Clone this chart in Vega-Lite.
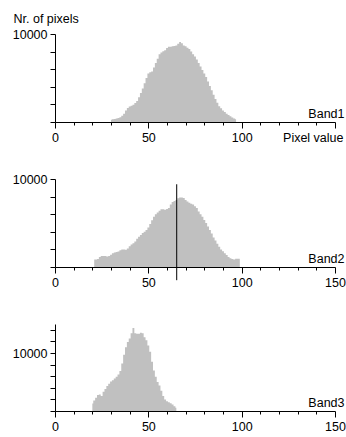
{
  "$schema": "https://vega.github.io/schema/vega-lite/v6.json",
  "background": "white",
  "padding": {"left": 12, "top": 12, "right": 0, "bottom": 0},
  "bounds": "flush",
  "spacing": 57,
  "config": {
    "view": {"stroke": null},
    "font": "Liberation Sans",
    "axis": {
      "domainColor": "black", "tickColor": "black", "labelColor": "black", "titleColor": "black",
      "labelFont": "Liberation Sans", "labelFontSize": 12.5, "titleFont": "Liberation Sans",
      "titleFontSize": 12.5, "titleFontWeight": "normal", "grid": false, "domainWidth": 1, "tickWidth": 1
    }
  },
  "datasets": {
    "b1": [
      {"v":30,"n":250},{"v":31,"n":300},{"v":32,"n":350},{"v":33,"n":400},{"v":34,"n":450},{"v":35,"n":550},{"v":36,"n":700},{"v":37,"n":950},{"v":38,"n":1300},{"v":39,"n":1600},
      {"v":40,"n":1750},{"v":41,"n":1850},{"v":42,"n":1950},{"v":43,"n":2150},{"v":44,"n":2400},{"v":45,"n":2800},{"v":46,"n":3300},{"v":47,"n":3800},{"v":48,"n":4400},{"v":49,"n":5000},
      {"v":50,"n":5500},{"v":51,"n":5650},{"v":52,"n":5750},{"v":53,"n":6200},{"v":54,"n":6700},{"v":55,"n":7200},{"v":56,"n":7700},{"v":57,"n":7900},{"v":58,"n":8050},{"v":59,"n":8150},
      {"v":60,"n":8400},{"v":61,"n":8550},{"v":62,"n":8550},{"v":63,"n":8600},{"v":64,"n":8650},{"v":65,"n":8700},{"v":66,"n":8900},{"v":67,"n":9100},{"v":68,"n":8950},{"v":69,"n":8700},
      {"v":70,"n":8600},{"v":71,"n":8450},{"v":72,"n":8300},{"v":73,"n":8000},{"v":74,"n":7700},{"v":75,"n":7450},{"v":76,"n":7100},{"v":77,"n":6700},{"v":78,"n":6300},{"v":79,"n":5900},
      {"v":80,"n":5500},{"v":81,"n":5100},{"v":82,"n":4600},{"v":83,"n":4100},{"v":84,"n":3600},{"v":85,"n":3100},{"v":86,"n":2600},{"v":87,"n":2200},{"v":88,"n":1800},{"v":89,"n":1550},
      {"v":90,"n":1300},{"v":91,"n":1150},{"v":92,"n":950},{"v":93,"n":800},{"v":94,"n":650},{"v":95,"n":500},{"v":96,"n":400},{"v":97,"n":300}
    ],
    "b2": [
      {"v":21,"n":850},{"v":22,"n":850},{"v":23,"n":900},{"v":24,"n":1150},{"v":25,"n":1250},{"v":26,"n":1250},{"v":27,"n":1250},{"v":28,"n":1200},{"v":29,"n":1250},
      {"v":30,"n":1400},{"v":31,"n":1550},{"v":32,"n":1650},{"v":33,"n":1700},{"v":34,"n":1750},{"v":35,"n":1900},{"v":36,"n":2000},{"v":37,"n":2000},{"v":38,"n":1950},{"v":39,"n":2100},
      {"v":40,"n":2350},{"v":41,"n":2550},{"v":42,"n":2700},{"v":43,"n":2900},{"v":44,"n":3200},{"v":45,"n":3450},{"v":46,"n":3650},{"v":47,"n":3850},{"v":48,"n":4000},{"v":49,"n":4200},
      {"v":50,"n":4500},{"v":51,"n":4900},{"v":52,"n":5300},{"v":53,"n":5700},{"v":54,"n":6000},{"v":55,"n":6200},{"v":56,"n":6400},{"v":57,"n":6550},{"v":58,"n":6550},{"v":59,"n":6500},
      {"v":60,"n":6600},{"v":61,"n":6700},{"v":62,"n":7100},{"v":63,"n":7400},{"v":64,"n":7500},{"v":65,"n":7600},{"v":66,"n":7800},{"v":67,"n":7900},{"v":68,"n":7900},{"v":69,"n":7850},
      {"v":70,"n":7600},{"v":71,"n":7450},{"v":72,"n":7300},{"v":73,"n":7200},{"v":74,"n":7100},{"v":75,"n":6900},{"v":76,"n":6700},{"v":77,"n":6300},{"v":78,"n":6000},{"v":79,"n":5700},
      {"v":80,"n":5350},{"v":81,"n":5000},{"v":82,"n":4600},{"v":83,"n":4200},{"v":84,"n":3800},{"v":85,"n":3350},{"v":86,"n":3000},{"v":87,"n":2650},{"v":88,"n":2300},{"v":89,"n":2000},
      {"v":90,"n":1800},{"v":91,"n":1550},{"v":92,"n":1350},{"v":93,"n":1150},{"v":94,"n":1000},{"v":95,"n":900},{"v":96,"n":850},{"v":97,"n":950},{"v":98,"n":950},{"v":99,"n":950}
    ],
    "b3": [
      {"v":20,"n":1300},{"v":21,"n":1800},{"v":22,"n":2300},{"v":23,"n":2750},{"v":24,"n":2850},{"v":25,"n":2600},{"v":26,"n":3300},{"v":27,"n":3800},{"v":28,"n":4300},{"v":29,"n":4700},
      {"v":30,"n":5100},{"v":31,"n":5300},{"v":32,"n":5600},{"v":33,"n":5900},{"v":34,"n":6300},{"v":35,"n":6900},{"v":36,"n":8200},{"v":37,"n":9700},{"v":38,"n":11000},{"v":39,"n":11900},
      {"v":40,"n":12500},{"v":41,"n":13400},{"v":42,"n":14300},{"v":43,"n":13400},{"v":44,"n":13300},{"v":45,"n":13300},{"v":46,"n":13500},{"v":47,"n":13400},{"v":48,"n":12700},{"v":49,"n":12200},
      {"v":50,"n":11300},{"v":51,"n":10200},{"v":52,"n":8500},{"v":53,"n":7000},{"v":54,"n":5900},{"v":55,"n":5000},{"v":56,"n":4400},{"v":57,"n":3500},{"v":58,"n":2600},{"v":59,"n":2000},
      {"v":60,"n":1700},{"v":61,"n":1500},{"v":62,"n":1350},{"v":63,"n":1100},{"v":64,"n":800},{"v":65,"n":550}
    ]
  },
  "vconcat": [
    {
      "width": 280, "height": 88,
      "data": {"name": "b1"},
      "mark": {"type": "area", "interpolate": "step", "color": "#c0c0c0"},
      "encoding": {
        "x": {"field": "v", "type": "quantitative", "scale": {"domain": [0, 150], "nice": false, "zero": false},
          "axis": {"values": [0,10,20,30,40,50,60,70,80,90,100,110,120,130,140,150], "format": "d",
            "tickSize": {"condition": {"test": "datum.value % 50 === 0", "value": 6}, "value": 3},
            "labelExpr": "datum.value === 150 ? 'Pixel value' : (datum.value % 50 === 0 ? datum.label : '')",
            "labelAlign": {"condition": {"test": "datum.value === 150", "value": "right"}, "value": "center"},
            "labelOffset": {"condition": {"test": "datum.value === 150", "value": 8}, "value": 0},
            "labelPadding": 3, "labelFlush": false, "labelOverlap": false,
            "title": "Band1", "titleAnchor": "end", "titleAlign": "right", "titleBaseline": "alphabetic", "titleX": 289, "titleY": -5}},
        "y": {"field": "n", "type": "quantitative", "scale": {"domain": [0, 10000], "nice": false},
          "axis": {"values": [0,2000,4000,6000,8000,10000], "format": "d", "tickSize": 5, "labelPadding": 3, "labelOverlap": false,
            "labelExpr": "datum.value === 10000 ? datum.label : ''",
            "title": "Nr. of pixels", "titleAngle": 0, "titleAlign": "left", "titleBaseline": "alphabetic", "titleX": -42, "titleY": -12}}
      }
    },
    {
      "width": 280, "height": 88,
      "encoding": {
        "x": {"field": "v", "type": "quantitative", "scale": {"domain": [0, 150], "nice": false, "zero": false},
          "axis": {"values": [0,10,20,30,40,50,60,70,80,90,100,110,120,130,140,150], "format": "d",
            "tickSize": {"condition": {"test": "datum.value % 50 === 0", "value": 6}, "value": 3},
            "labelExpr": "datum.value % 50 === 0 ? datum.label : ''",
            "labelPadding": 3, "labelFlush": false, "labelOverlap": false,
            "title": "Band2", "titleAnchor": "end", "titleAlign": "right", "titleBaseline": "alphabetic", "titleX": 289, "titleY": -5}},
        "y": {"field": "n", "type": "quantitative", "scale": {"domain": [0, 10000], "nice": false},
          "axis": {"values": [0,2000,4000,6000,8000,10000], "format": "d", "tickSize": 5, "labelPadding": 3, "labelOverlap": false,
            "labelExpr": "datum.value === 10000 ? datum.label : ''", "title": null}}
      },
      "layer": [
        {
          "data": {"name": "b2"},
          "mark": {"type": "area", "interpolate": "step", "color": "#c0c0c0"}
        },
        {
          "data": {"values": [{"v": 65.2, "n": 9400, "n2": -1500}]},
          "mark": {"type": "rule", "color": "black", "strokeWidth": 1},
          "encoding": {"y2": {"field": "n2"}}
        }
      ]
    },
    {
      "width": 280, "height": 87,
      "data": {"name": "b3"},
      "mark": {"type": "area", "interpolate": "step", "color": "#c0c0c0"},
      "encoding": {
        "x": {"field": "v", "type": "quantitative", "scale": {"domain": [0, 150], "nice": false, "zero": false},
          "axis": {"values": [0,10,20,30,40,50,60,70,80,90,100,110,120,130,140,150], "format": "d",
            "tickSize": {"condition": {"test": "datum.value % 50 === 0", "value": 6}, "value": 3},
            "labelExpr": "datum.value % 50 === 0 ? datum.label : ''",
            "labelPadding": 3, "labelFlush": false, "labelOverlap": false,
            "title": "Band3", "titleAnchor": "end", "titleAlign": "right", "titleBaseline": "alphabetic", "titleX": 289, "titleY": -5}},
        "y": {"field": "n", "type": "quantitative", "scale": {"domain": [0, 15000], "nice": false},
          "axis": {"values": [0,2000,4000,6000,8000,10000,12000,14000], "format": "d", "tickSize": 5, "labelPadding": 3, "labelOverlap": false,
            "labelExpr": "datum.value === 10000 ? datum.label : ''", "title": null}}
      }
    }
  ]
}
